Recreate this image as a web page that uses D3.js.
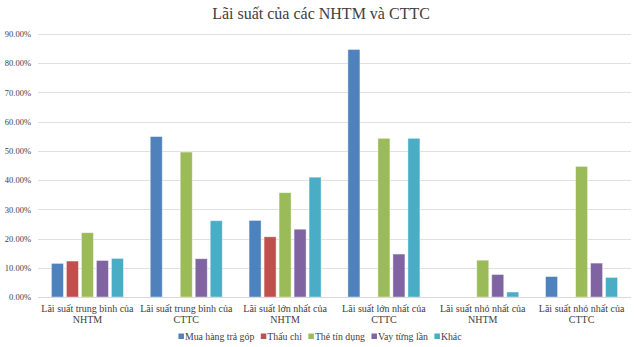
<!DOCTYPE html>
<html>
<head>
<meta charset="utf-8">
<script src="https://cdn.jsdelivr.net/npm/d3@7"></script>
<style>
  body { margin: 0; background: #fff; }
  svg text, svg tspan { font-family: "Liberation Serif", "Times New Roman", serif !important; }
</style>
</head>
<body>
<div class="chart"></div>
<script>
// lãi suất theo nhóm
var categories = [
  ["Lãi suất trung bình của", "NHTM"],
  ["Lãi suất trung bình của", "CTTC"],
  ["Lãi suất lớn nhất của", "NHTM"],
  ["Lãi suất lớn nhất của", "CTTC"],
  ["Lãi suất nhỏ nhất của", "NHTM"],
  ["Lãi suất nhỏ nhất của", "CTTC"]
];
var seriesNames = ["Mua hàng trả góp", "Thấu chi", "Thẻ tín dụng", "Vay từng lần", "Khác"];
var colors = ["#4f81bd", "#c0504d", "#9bbb59", "#8064a2", "#4bacc6"];

// null = no bar
var muaHang  = [0.115, 0.549, 0.262, 0.847, null, 0.070];
var thauChi  = [0.123, null, 0.206, null, null, null];
var theTD    = [0.220, 0.496, 0.357, 0.543, 0.126, 0.447];
var vayLan   = [0.125, 0.131, 0.232, 0.147, 0.077, 0.116];
var khac     = [0.132, 0.261, 0.410, 0.543, 0.017, 0.067];
var seriesValues = [muaHang, thauChi, theTD, vayLan, khac];

var yTicks = [0, 0.1, 0.2, 0.3, 0.4, 0.5, 0.6, 0.7, 0.8, 0.9];

var W = 640, H = 347;
var margin = {top: 34, right: 9, bottom: 50, left: 38},
    width = W - margin.left - margin.right,
    height = H - margin.top - margin.bottom;

var svg = d3.select(".chart").append("svg")
    .attr("width", W)
    .attr("height", H);

svg.append("text")
    .attr("x", 321)
    .attr("y", 19)
    .attr("text-anchor", "middle")
    .attr("fill", "#404040")
    .style("font-size", "16px")
    .text("Lãi suất của các NHTM và CTTC");

var g = svg.append("g")
    .attr("transform", "translate(" + margin.left + "," + margin.top + ")");

var y = d3.scaleLinear()
    .domain([0, 0.9])
    .range([height, 0]);

var x0 = d3.scaleBand()
    .domain(d3.range(categories.length))
    .range([0, width]);

var x1 = d3.scaleBand()
    .domain(d3.range(seriesNames.length))
    .range([0, 75]);

// gridlines
g.selectAll(".grid")
    .data(yTicks)
    .enter().append("line")
    .attr("x1", 0)
    .attr("x2", width)
    .attr("y1", function(d){ return Math.round(y(d)) + 0.5; })
    .attr("y2", function(d){ return Math.round(y(d)) + 0.5; })
    .attr("stroke", "#e0e0e0")
    .attr("stroke-width", 1);

// y labels
var yAxis = d3.axisLeft(y)
    .tickValues(yTicks)
    .tickFormat(d3.format(".2%"))
    .tickSize(0)
    .tickPadding(7);

var ya = g.append("g").call(yAxis)
    .attr("font-family", null)
    .attr("font-size", null);
ya.select(".domain").remove();
ya.selectAll("text")
    .style("font-size", "8.5px")
    .attr("fill", "#404040");

// bars
var groups = g.selectAll(".cat")
    .data(categories)
    .enter().append("g")
    .attr("class", "cat")
    .attr("transform", function(d, i){
      return "translate(" + (x0(i) + (x0.bandwidth() - 75) / 2) + ",0)";
    });

groups.each(function(c, ci) {
  var grp = d3.select(this);
  seriesValues.forEach(function(vals, si) {
    var v = vals[ci];
    if (v == null) return;
    grp.append("rect")
        .attr("x", x1(si) + 1.5)
        .attr("width", x1.bandwidth() - 3)
        .attr("y", y(v))
        .attr("height", height - y(v))
        .attr("fill", colors[si])
        .attr("stroke", "#fff")
        .attr("stroke-opacity", 0.5)
        .attr("stroke-width", 0.8);
  });
});

// baseline
g.append("line")
    .attr("x1", 0).attr("x2", width)
    .attr("y1", height + 0.5).attr("y2", height + 0.5)
    .attr("stroke", "#d9d9d9");

// category labels
var lbl = g.selectAll(".lbl")
    .data(categories)
    .enter().append("text")
    .attr("text-anchor", "middle")
    .attr("fill", "#404040")
    .attr("transform", function(d, i){
      return "translate(" + (x0(i) + x0.bandwidth() / 2) + "," + (height + 15) + ")";
    })
    .style("font-size", "10px");
lbl.append("tspan").attr("x", 0).attr("y", 0).text(function(d){ return d[0]; });
lbl.append("tspan").attr("x", 0).attr("y", 10.5).text(function(d){ return d[1]; });

// legend: lay items out one after another, then centre the row
var legendG = svg.append("g");
var legend = legendG.selectAll(".legend")
    .data(seriesNames)
    .enter().append("g");

legend.append("rect")
    .attr("x", 0).attr("y", -3.5)
    .attr("width", 5.5).attr("height", 5.5)
    .attr("fill", function(d, i){ return colors[i]; });

legend.append("text")
    .attr("x", 6.5)
    .attr("y", 3.3)
    .attr("fill", "#404040")
    .style("font-size", "9.8px")
    .text(function(d){ return d; });

var cursor = 0;
legend.each(function() {
  var item = d3.select(this);
  item.attr("transform", "translate(" + cursor + ",0)");
  cursor += 6.5 + item.select("text").node().getComputedTextLength() + 6.5;
});
cursor -= 6.5;
legendG.attr("transform", "translate(" + (320 - cursor / 2) + ",337)");
</script>
</body>
</html>
